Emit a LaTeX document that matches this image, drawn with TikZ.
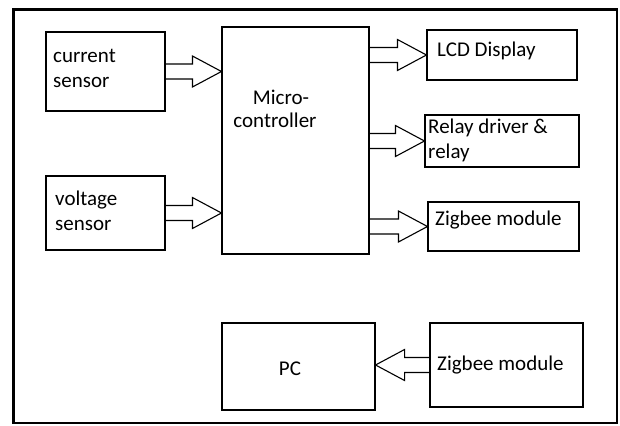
\documentclass[tikz,border=0pt]{standalone}
\usepackage{fontspec}
\setmainfont{Carlito}
\usetikzlibrary{calc}
\tikzset{
  blk/.style={draw=black, line width=1.1pt, rectangle, inner sep=0pt},
  lbl/.style={inner sep=0pt, anchor=base west, font=\fontsize{21}{25}\selectfont, text=black},
  arrowline/.style={draw=black, line width=1.1pt, line join=miter},
}
\newcommand{\blockarrow}[2]{%
  \draw[arrowline] let \p1=#1, \p2=#2, \n1={sign(\x2-\x1)} in
    (\x1,\y1+7.5pt) -- ({\x2-\n1*29pt},\y1+7.5pt) -- ({\x2-\n1*29pt},\y1+15.5pt)
    -- (\x2,\y1) -- ({\x2-\n1*29pt},\y1-15.5pt) -- ({\x2-\n1*29pt},\y1-7.5pt) -- (\x1,\y1-7.5pt);
}
\begin{document}
\begin{tikzpicture}[x=1pt,y=-1pt]
\useasboundingbox (0,0) rectangle (620,425);
\fill[white] (0,0) rectangle (620,425);
% outer frame
\draw[line width=1.4pt] (13.3,9.5) -- (617,9.5) -- (617,423) -- (13.3,423);
\draw[line width=3.4pt] (13.3,423.7) -- (13.3,9.5) -- (617.7,9.5);
% boxes
\node[blk, minimum width=119pt, minimum height=79pt] (cs) at (105.5,71.5) {};
\node[blk, minimum width=119pt, minimum height=74pt] (vs) at (105.5,213) {};
\node[blk, minimum width=147pt, minimum height=227pt] (mc) at (295.5,140.5) {};
\node[blk, minimum width=150pt, minimum height=50pt] (lcd) at (502,55) {};
\node[blk, minimum width=154pt, minimum height=52pt] (rl) at (502,141) {};
\node[blk, minimum width=151pt, minimum height=49pt] (zb) at (503.5,226.5) {};
\node[blk, minimum width=153pt, minimum height=87pt] (pc) at (298.5,366.5) {};
\node[blk, minimum width=153pt, minimum height=84pt] (zb2) at (506.5,365) {};
% labels
\node[lbl] (t1) at (53,63) {current};
\node[lbl] (t2) at (53,88) {sensor};
\node[lbl] (t3) at (55,205) {voltage};
\node[lbl] (t4) at (55,230) {sensor};
\node[lbl, anchor=base] (t5) at (281,104) {Micro-};
\node[lbl, anchor=base] (t6) at (275,128) {controller};
\node[lbl] (t7) at (437,57) {LCD Display};
\node[lbl] (t8) at (428,133) {Relay driver \&};
\node[lbl] (t9) at (428,158) {relay};
\node[lbl] (t10) at (435,225) {Zigbee module};
\node[lbl, anchor=base] (t11) at (290,375) {PC};
\node[lbl] (t12) at (437,370) {Zigbee module};
% block arrows
\blockarrow{(cs.east)}{(mc.west |- cs.east)}
\blockarrow{(vs.east)}{(mc.west |- vs.east)}
\blockarrow{(mc.east |- lcd.west)}{(lcd.west)}
\blockarrow{(mc.east |- rl.west)}{(rl.west)}
\blockarrow{(mc.east |- zb.west)}{(zb.west)}
\blockarrow{(zb2.west)}{(pc.east |- zb2.west)}
\end{tikzpicture}
\end{document}
